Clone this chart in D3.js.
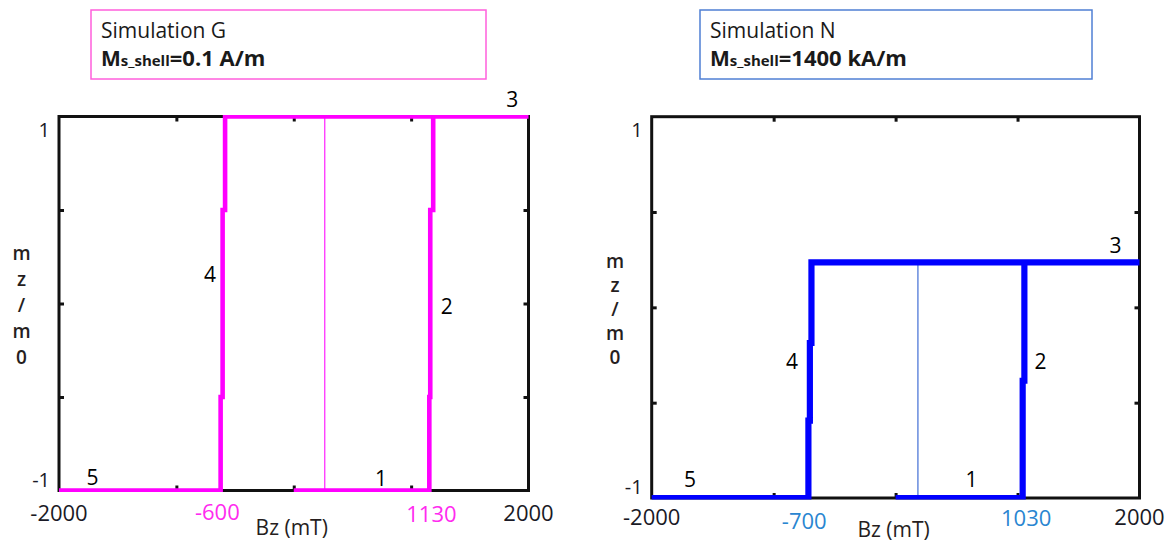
<!DOCTYPE html>
<html>
<head>
<meta charset="utf-8">
<script src="https://cdn.jsdelivr.net/npm/d3@7"></script>
<style>
body{margin:0;background:#fff}
svg text{font-family:"Open Sans",sans-serif}
</style>
</head>
<body>
<div id="chart"></div>
<script>
// axes shared by both loops
const fieldDomain = [-2000, 2000]
const mDomain = [-1, 1]
const fieldTicks = [-1000, 0, 1000]
const mTicks = [-0.5, 0, 0.5]
const fieldLabels = [-2000, 2000]
const mLabels = [1, -1]
const yTitle = ['m', 'z', '/', 'm', '0']
const stepNames = ['1', '2', '3', '4', '5']

// Simulation G, Ms_shell = 0.1 A/m
const loopG_B = [0, 1155, 1155, 1163, 1163, 1188, 1188, 2000, -585, -585, -606, -606, -623, -623, -2000]
const loopG_m = [-1, -1, -0.5, -0.5, 0.5, 0.5, 1, 1, 1, 0.5, 0.5, -0.5, -0.5, -1, -1]
const switchG = [-600, 1130]
const startG_B = 264
const startG_m = [-1, 1]
const stepsG_B = [744, 1304, 1861, -713, -1714]
const stepsG_m = [-0.975, -0.056, 1.05, 0.115, -0.973]

// Simulation N, Ms_shell = 1400 kA/m
const loopN_B = [0, 1042, 1042, 1056, 1056, 2000, -690, -690, -703, -703, -715, -715, -2000]
const loopN_m = [-1, -1, -0.385, -0.385, 0.236, 0.236, 0.236, -0.187, -0.187, -0.594, -0.594, -1, -1]
const switchN = [-700, 1030]
const startN_B = 183
const startN_m = [-1, 0.236]
const stepsN_B = [622, 1188, 1803, -850, -1686]
const stepsN_m = [-0.942, -0.323, 0.287, -0.323, -0.942]

const width = 1167, height = 542

const svg = d3.select('#chart').append('svg')
  .attr('width', width)
  .attr('height', height)
  .attr('viewBox', `0,0,${width},${height}`)

svg.append('rect').attr('width', width).attr('height', height).attr('fill', '#fff')

function drawPanel(p){
  const x = d3.scaleLinear().domain(fieldDomain).range([p.l, p.r])
  const y = d3.scaleLinear().domain(mDomain).range([p.b, p.t])
  const g = svg.append('g')

  // title box
  g.append('rect')
    .attr('x', p.box[0]).attr('y', p.box[1])
    .attr('width', p.box[2]).attr('height', p.box[3])
    .attr('fill', '#fff').attr('stroke', p.boxColor).attr('stroke-width', 1.5)
  g.append('text')
    .attr('x', p.box[0] + 10).attr('y', p.box[1] + 28)
    .attr('font-size', 21).attr('fill', '#1a1a1a')
    .text(p.title)
  const t2 = g.append('text')
    .attr('x', p.box[0] + 10).attr('y', p.box[1] + 56)
    .attr('font-weight', 700).attr('fill', '#1a1a1a')
  t2.append('tspan').attr('font-size', 21).text('M')
  t2.append('tspan').attr('font-size', 15).text('s_shell')
  t2.append('tspan').attr('font-size', 22).text(p.value)

  // frame
  g.append('rect')
    .attr('x', p.l).attr('y', p.t)
    .attr('width', p.r - p.l).attr('height', p.b - p.t)
    .attr('fill', 'none').attr('stroke', '#111').attr('stroke-width', 3)

  // inward ticks on all four sides
  const tick = (axis, tr) => g.append('g')
    .attr('transform', tr)
    .call(axis.tickSizeInner(-5).tickSizeOuter(0).tickFormat(''))
    .call(a => a.select('.domain').remove())
    .call(a => a.selectAll('line').attr('stroke', '#111').attr('stroke-width', 3))
  tick(d3.axisBottom(x).tickValues(fieldTicks), `translate(0,${p.b})`)
  tick(d3.axisTop(x).tickValues(fieldTicks), `translate(0,${p.t})`)
  tick(d3.axisLeft(y).tickValues(mTicks), `translate(${p.l},0)`)
  tick(d3.axisRight(y).tickValues(mTicks), `translate(${p.r},0)`)

  // loop, clipped to the outer edge of the frame
  const clipId = 'clip' + p.id
  g.append('clipPath').attr('id', clipId)
    .append('rect')
    .attr('x', p.l - 1.5).attr('y', p.t - 1.5)
    .attr('width', p.r - p.l + 3).attr('height', p.b - p.t + 3)

  g.append('line')
    .attr('x1', x(p.startB)).attr('x2', x(p.startB))
    .attr('y1', y(p.startM[0])).attr('y2', y(p.startM[1]))
    .attr('stroke', p.thin).attr('stroke-width', 1.3)

  const line = d3.line()
    .x(i => x(p.B[i]))
    .y(i => y(p.M[i]))
  g.append('path')
    .datum(d3.range(p.B.length))
    .attr('clip-path', `url(#${clipId})`)
    .attr('d', line)
    .attr('fill', 'none')
    .attr('stroke', p.color)
    .attr('stroke-width', p.lw)
    .attr('stroke-linejoin', 'miter')

  // branch numbers
  g.selectAll('text.step').data(stepNames).enter().append('text')
    .attr('class', 'step')
    .attr('x', (d, i) => x(p.stepB[i]))
    .attr('y', (d, i) => y(p.stepM[i]))
    .attr('text-anchor', 'middle')
    .attr('font-size', 21).attr('fill', '#000')
    .text(d => d)

  // x labels
  g.selectAll('text.xl').data(fieldLabels).enter().append('text')
    .attr('class', 'xl')
    .attr('x', d => x(d)).attr('y', p.labelY)
    .attr('text-anchor', 'middle')
    .attr('font-size', 22).attr('fill', '#1a1a26')
    .text(d => d)
  g.selectAll('text.sw').data(p.switchB).enter().append('text')
    .attr('class', 'sw')
    .attr('x', d => x(d) + (d < 0 ? -6 : 5))
    .attr('y', (d, i) => p.switchY[i])
    .attr('text-anchor', 'middle')
    .attr('font-size', 22).attr('fill', p.textColor)
    .text(d => d)
  g.append('text')
    .attr('x', (p.l + p.r) / 2 - 2).attr('y', p.titleY)
    .attr('text-anchor', 'middle')
    .attr('font-size', 21).attr('fill', '#261e1e')
    .text('Bz (mT)')

  // y labels
  g.selectAll('text.yl').data(mLabels).enter().append('text')
    .attr('class', 'yl')
    .attr('x', p.l - 9)
    .attr('y', d => d > 0 ? y(d) + 20 : y(d) - 4)
    .attr('text-anchor', 'end')
    .attr('font-size', 20).attr('fill', '#1a1a26')
    .text(d => d)
  g.selectAll('text.yt').data(yTitle).enter().append('text')
    .attr('class', 'yt')
    .attr('x', p.yTitleX)
    .attr('y', (d, i) => p.yTitleY + i * p.yTitleStep)
    .attr('text-anchor', 'middle')
    .attr('font-size', 19).attr('font-weight', 600).attr('fill', '#261e1e')
    .text(d => d)
}

drawPanel({
  id: 'G', l: 59, r: 528.5, t: 116.5, b: 490.5,
  box: [91, 10, 395, 69], boxColor: '#ff5fdc',
  title: 'Simulation G', value: '=0.1 A/m',
  B: loopG_B, M: loopG_m, color: '#ff00ff', lw: 4.6, thin: '#ff33ff',
  startB: startG_B, startM: startG_m,
  stepB: stepsG_B, stepM: stepsG_m,
  switchB: switchG, switchY: [520, 522], textColor: '#ff2bef',
  labelY: 521, titleY: 535,
  yTitleX: 21.5, yTitleY: 260, yTitleStep: 26
})

drawPanel({
  id: 'N', l: 651.7, r: 1139.5, t: 116.7, b: 498,
  box: [700, 10, 392, 69], boxColor: '#4f7fd4',
  title: 'Simulation N', value: '=1400 kA/m',
  B: loopN_B, M: loopN_m, color: '#0000ff', lw: 6.2, thin: '#4f79d8',
  startB: startN_B, startM: startN_m,
  stepB: stepsN_B, stepM: stepsN_m,
  switchB: switchN, switchY: [529, 526], textColor: '#2a86d1',
  labelY: 525, titleY: 537,
  yTitleX: 615, yTitleY: 268, yTitleStep: 24
})
</script>
</body>
</html>
